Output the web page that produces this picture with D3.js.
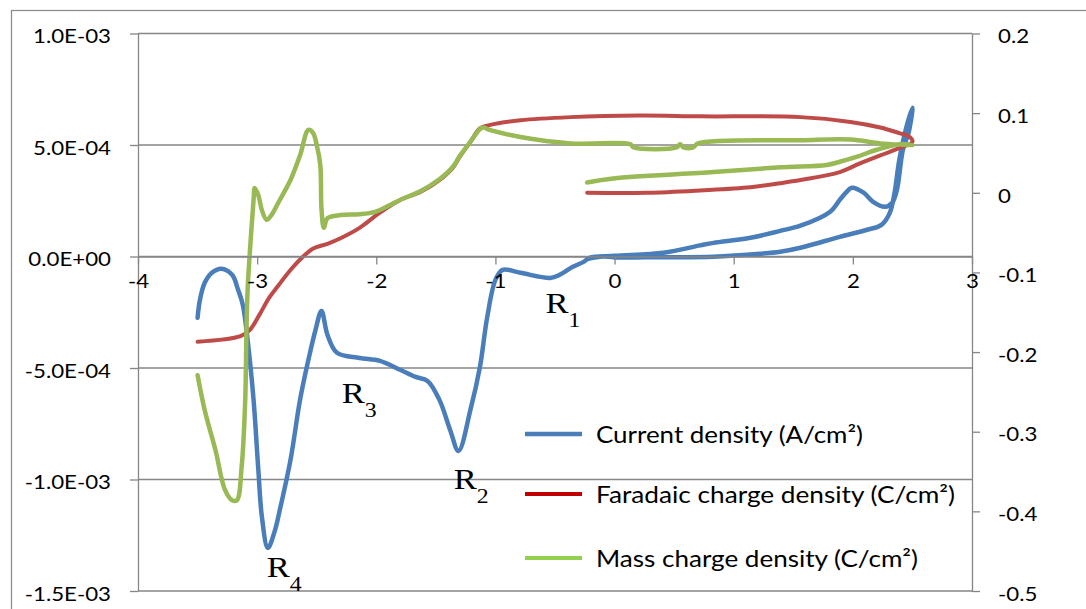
<!DOCTYPE html>
<html>
<head>
<meta charset="utf-8">
<script src="https://cdn.jsdelivr.net/npm/d3@7"></script>
<style>
  body { margin: 0; background: #fff; }
  svg text { font-family: Lato, "Open Sans", sans-serif; fill: #000; }
</style>
</head>
<body>
<div id="chart"></div>
<script>
// ticks
const xTicks = [-4, -3, -2, -1, 0, 1, 2, 3];
const leftTicks = [-1.5e-3, -1e-3, -5e-4, 0, 5e-4, 1e-3];
const leftTickLabels = ['-1.5E-03', '-1.0E-03', '-5.0E-04', '0.0E+00', '5.0E-04', '1.0E-03'];
const rightTicks = [-0.5, -0.4, -0.3, -0.2, -0.1, 0, 0.1, 0.2];
const rightTickLabels = ['-0.5', '-0.4', '-0.3', '-0.2', '-0.1', '0', '0.1', '0.2'];

const seriesNames = ['Current density (A/cm²)', 'Faradaic charge density (C/cm²)', 'Mass charge density (C/cm²)'];

// [potential, current density A/cm²] in sweep order
const currentDensity = [
  [-0.22, -0.1e-4], [-0.10, 0.0], [0.00, -0.04e-4], [0.40, -0.03e-4], [0.83, -0.01e-4],
  [1.22, 0.12e-4], [1.39, 0.21e-4], [1.56, 0.39e-4], [1.89, 0.88e-4], [2.12, 1.20e-4],
  [2.24, 1.42e-4], [2.31, 1.96e-4], [2.35, 2.86e-4], [2.39, 4.34e-4], [2.45, 5.82e-4],
  [2.50, 6.67e-4],
  [2.47, 5.6e-4], [2.42, 4.79e-4], [2.37, 2.99e-4], [2.33, 2.41e-4], [2.27, 2.23e-4],
  [2.17, 2.45e-4], [2.09, 2.86e-4], [1.99, 3.08e-4], [1.94, 2.85e-4], [1.89, 2.54e-4],
  [1.81, 2.01e-4], [1.56, 1.38e-4], [1.39, 1.15e-4], [1.14, 0.84e-4], [0.83, 0.61e-4],
  [0.72, 0.50e-4], [0.41, 0.17e-4], [0.00, 0.03e-4], [-0.21, -0.06e-4], [-0.26, -0.24e-4],
  [-0.35, -0.46e-4], [-0.46, -0.82e-4], [-0.54, -0.96e-4], [-0.79, -0.73e-4], [-0.94, -0.60e-4],
  [-1.00, -1.05e-4], [-1.07, -2.75e-4], [-1.13, -4.95e-4], [-1.21, -6.88e-4], [-1.31, -8.72e-4],
  [-1.38, -7.78e-4], [-1.47, -6.43e-4], [-1.57, -5.58e-4], [-1.67, -5.40e-4], [-1.80, -5.08e-4],
  [-1.97, -4.68e-4], [-2.14, -4.55e-4], [-2.33, -4.32e-4], [-2.41, -3.51e-4], [-2.46, -2.44e-4],
  [-2.51, -3.29e-4], [-2.57, -4.64e-4], [-2.64, -6.43e-4], [-2.72, -9.12e-4], [-2.81, -11.37e-4],
  [-2.85, -12.27e-4], [-2.91, -13.07e-4], [-2.96, -11.68e-4], [-2.99, -9.57e-4], [-3.03, -6.43e-4],
  [-3.08, -3.74e-4], [-3.12, -2.17e-4], [-3.16, -1.49e-4], [-3.21, -0.82e-4], [-3.30, -0.55e-4],
  [-3.38, -0.73e-4], [-3.44, -1.18e-4], [-3.48, -1.94e-4], [-3.50, -2.75e-4]
];

// [potential, Faradaic charge C/cm²]
const faradaicCharge = [
  [-0.23, 0.000], [0.27, 0.000], [0.72, 0.003], [1.14, 0.007], [1.39, 0.012], [1.56, 0.016],
  [1.89, 0.026], [2.06, 0.037], [2.23, 0.047], [2.39, 0.056], [2.50, 0.064],
  [2.47, 0.071], [2.39, 0.075], [2.23, 0.082], [1.98, 0.089], [1.56, 0.095], [0.72, 0.096],
  [0.21, 0.097], [-0.37, 0.095], [-0.79, 0.091], [-1.05, 0.085], [-1.13, 0.081], [-1.21, 0.064],
  [-1.30, 0.045], [-1.36, 0.031], [-1.47, 0.016], [-1.63, 0.001], [-1.80, -0.009], [-1.97, -0.025],
  [-2.14, -0.044], [-2.30, -0.057], [-2.41, -0.064], [-2.53, -0.070], [-2.62, -0.081], [-2.72, -0.097],
  [-2.83, -0.118], [-2.90, -0.132], [-2.98, -0.153], [-3.06, -0.172], [-3.14, -0.180], [-3.50, -0.187]
];

// [potential, mass charge C/cm²]
const massCharge = [
  [-0.23, 0.013], [-0.01, 0.018], [0.83, 0.026], [1.39, 0.032], [1.78, 0.035], [1.89, 0.039],
  [2.03, 0.045], [2.20, 0.054], [2.39, 0.061], [2.50, 0.060],
  [2.23, 0.062], [1.98, 0.067], [1.56, 0.066], [0.70, 0.062], [0.66, 0.057], [0.58, 0.057],
  [0.55, 0.061], [0.52, 0.057], [0.16, 0.057], [0.13, 0.061], [-0.37, 0.062], [-0.79, 0.070],
  [-1.05, 0.079], [-1.11, 0.082], [-1.21, 0.064], [-1.30, 0.046], [-1.36, 0.032], [-1.47, 0.017],
  [-1.63, 0.002], [-1.80, -0.009], [-1.88, -0.015], [-2.01, -0.024], [-2.14, -0.027], [-2.30, -0.028],
  [-2.41, -0.032], [-2.44, -0.044], [-2.46, -0.020], [-2.47, 0.035], [-2.50, 0.060], [-2.53, 0.075],
  [-2.57, 0.079], [-2.64, 0.047], [-2.72, 0.016], [-2.81, -0.009], [-2.88, -0.028], [-2.92, -0.034],
  [-2.96, -0.022], [-2.99, -0.003], [-3.02, 0.006], [-3.03, -0.009], [-3.06, -0.072], [-3.08, -0.122],
  [-3.09, -0.176], [-3.10, -0.260], [-3.13, -0.344], [-3.17, -0.386], [-3.21, -0.386], [-3.27, -0.373],
  [-3.35, -0.323], [-3.44, -0.273], [-3.50, -0.229]
];

// peak annotations (potential, current density at text baseline)
const peakLabels = [
  { sub: '1', x: -0.58, y: -2.53e-4 },
  { sub: '2', x: -1.35, y: -10.43e-4 },
  { sub: '3', x: -2.29, y: -6.57e-4 },
  { sub: '4', x: -2.92, y: -14.38e-4 }
];

const W = 1086, H = 609;
const svg = d3.select('#chart').append('svg').attr('width', W).attr('height', H);

const x = d3.scaleLinear().domain([-4, 3]).range([138, 972]);
const yL = d3.scaleLinear().domain([-1.5e-3, 1e-3]).range([591, 33.5]);
const yR = d3.scaleLinear().domain([-0.5, 0.2]).range([591, 33.5]);
const axisColor = '#868686';

// chart border
svg.append('rect').attr('x', 11.5).attr('y', 10.5).attr('width', 1100).attr('height', 700)
  .attr('fill', 'none').attr('stroke', '#8e8e8e').attr('stroke-width', 1.3);

// gridlines
svg.append('g').selectAll('line').data(leftTicks).enter().append('line')
  .attr('x1', x(-4)).attr('x2', x(3)).attr('y1', d => yL(d)).attr('y2', d => yL(d))
  .attr('stroke', axisColor).attr('stroke-width', 1.3);

// series
const lineFor = ys => d3.line().x(d => x(d[0])).y(d => ys(d[1])).curve(d3.curveCatmullRom.alpha(0.5));
svg.append('path').datum(currentDensity).attr('d', lineFor(yL))
  .attr('fill', 'none').attr('stroke', '#4a7ebb').attr('stroke-width', 4.5).attr('stroke-linejoin', 'round').attr('stroke-linecap', 'round');
svg.append('path').datum(faradaicCharge).attr('d', lineFor(yR))
  .attr('fill', 'none').attr('stroke', '#be4b48').attr('stroke-width', 4).attr('stroke-linejoin', 'round').attr('stroke-linecap', 'round');
svg.append('path').datum(massCharge).attr('d', lineFor(yR))
  .attr('fill', 'none').attr('stroke', '#98b954').attr('stroke-width', 4.5).attr('stroke-linejoin', 'round').attr('stroke-linecap', 'round');

// axes
const gL = svg.append('g').attr('transform', `translate(${x(-4)},0)`)
  .call(d3.axisLeft(yL).tickValues(leftTicks).tickFormat((d, i) => leftTickLabels[i]).tickSize(8).tickSizeOuter(0).tickPadding(19));
const gR = svg.append('g').attr('transform', `translate(${x(3)},0)`)
  .call(d3.axisRight(yR).tickValues(rightTicks).tickFormat((d, i) => rightTickLabels[i]).tickSize(8).tickSizeOuter(0).tickPadding(18));
const gB = svg.append('g').attr('transform', `translate(0,${yL(0)})`)
  .call(d3.axisBottom(x).tickValues(xTicks).tickFormat(d => String(d)).tickSize(8).tickSizeOuter(0).tickPadding(10));

[gL, gR, gB].forEach(g => {
  g.selectAll('path.domain').attr('stroke', axisColor).attr('stroke-width', 1.3);
  g.selectAll('.tick line').attr('stroke', axisColor).attr('stroke-width', 1.3);
  g.selectAll('.tick text').style('font-family', 'Lato, sans-serif').style('font-size', '18.5px').attr('fill', '#000');
});
gL.selectAll('.tick text').attr('dy', '0.5em');
gR.selectAll('.tick text').attr('dy', '0.5em');

// horizontal stretch of labels to match the reference
const probe = svg.append('text').style('font-family', 'Lato, sans-serif').style('font-size', '18.5px').text('1.0E-03');
const stretch = 78 / probe.node().getComputedTextLength();
probe.remove();
svg.selectAll('.tick text').each(function () {
  const w = this.getComputedTextLength();
  d3.select(this).attr('textLength', w * stretch).attr('lengthAdjust', 'spacingAndGlyphs');
});

// peak labels
peakLabels.forEach(p => {
  const t = svg.append('text')
    .attr('transform', `translate(${x(p.x)},${yL(p.y)}) scale(1.19,1)`)
    .style('font-family', '"Liberation Serif", "Times New Roman", serif').style('font-size', '29px');
  t.append('tspan').text('R');
  t.append('tspan').attr('dy', 14).style('font-size', '20px').text(p.sub);
});

// legend
const legendColors = ['#4a7ebb', '#c00000', '#92d050'];
const legendWidths = [4.5, 4, 4];
const legendTextLen = [267, 359, 322];
const legendY = [434, 494, 558];
const lg = svg.append('g');
seriesNames.forEach((name, i) => {
  lg.append('line').attr('x1', 525).attr('x2', 582).attr('y1', legendY[i]).attr('y2', legendY[i])
    .attr('stroke', legendColors[i]).attr('stroke-width', legendWidths[i]);
  lg.append('text').attr('x', 596).attr('y', legendY[i] + 9)
    .style('font-family', 'Lato, sans-serif').style('font-size', '24px')
    .attr('textLength', legendTextLen[i]).attr('lengthAdjust', 'spacingAndGlyphs')
    .text(name);
});
</script>
</body>
</html>
